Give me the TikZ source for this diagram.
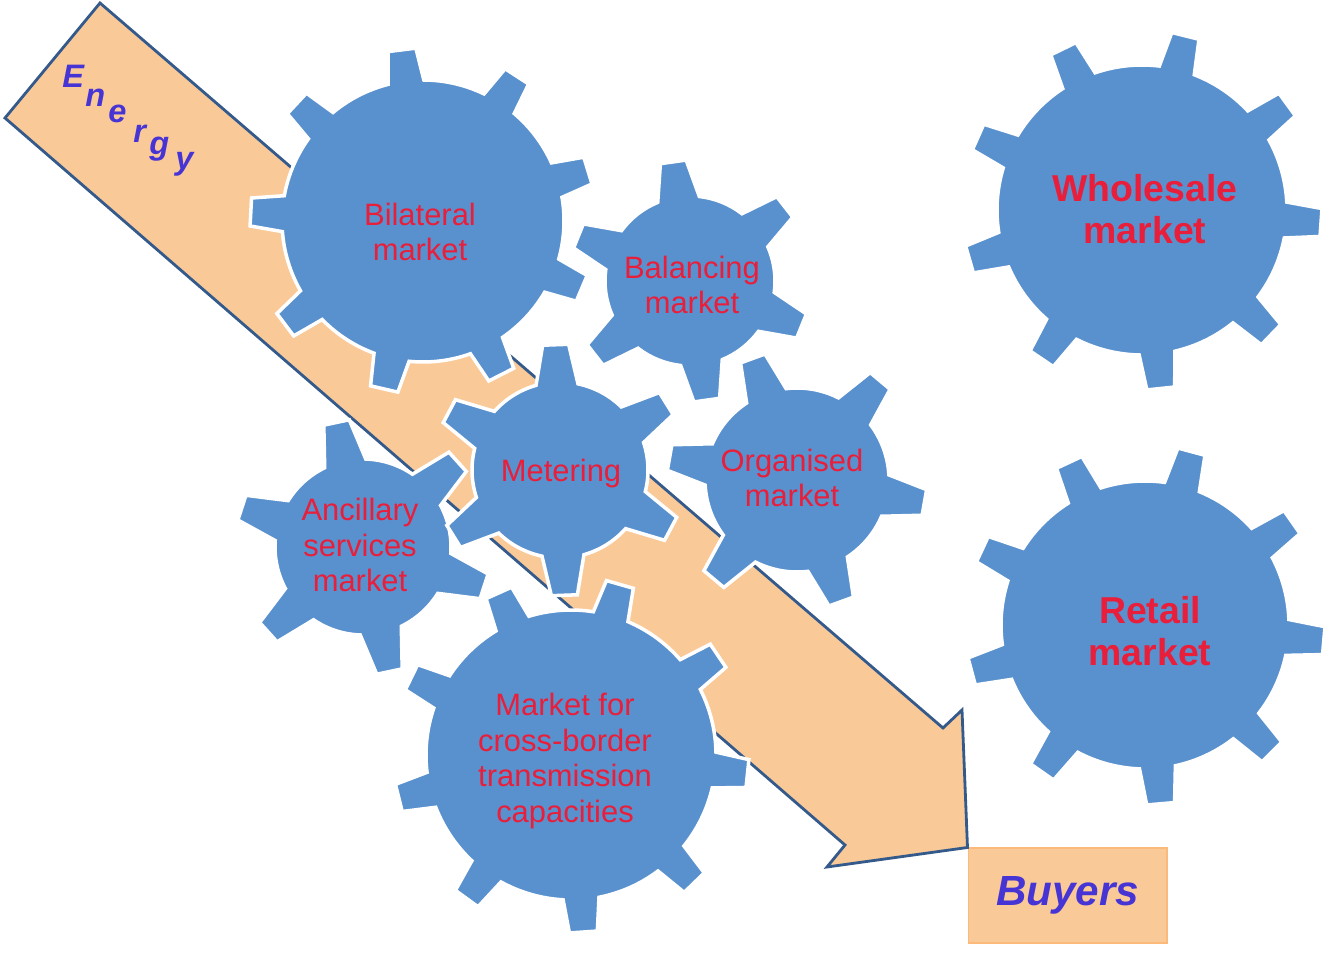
\documentclass[tikz,border=0pt]{standalone}
\usepackage{fontspec}
\setmainfont{Liberation Sans}
\usepackage{tikz}

\definecolor{gearblue}{RGB}{89,145,206}
\definecolor{peach}{RGB}{250,201,152}
\definecolor{arrowblue}{RGB}{52,90,140}
\definecolor{labelred}{RGB}{233,30,58}
\definecolor{inkblue}{RGB}{70,52,212}

\tikzset{
  gear/.style={fill=gearblue, draw=white, line width=2pt, line join=miter},
  gearlabel/.style={text=labelred, align=center, font=\fontsize{17.6}{20.4}\selectfont},
  biglabel/.style={text=labelred, align=center, font=\bfseries\fontsize{21.3}{23.8}\selectfont},
  energy/.style={text=inkblue, font=\bfseries\itshape\fontsize{18.5}{20}\selectfont, anchor=base west, inner sep=0pt},
}

% cog wheel: centre, rim radius, tip radius, teeth, first tooth angle, half width at rim, half width at tip
\newcommand{\cog}[7]{%
  \pgfmathsetmacro{\cogstep}{360/#4}%
  \pgfmathsetmacro{\cogroot}{asin(#6/#2)}%
  \pgfmathsetmacro{\cogtip}{asin(#7/#3)}%
  \path[gear, shift={#1}] ({#5-\cogroot}:#2)
    \foreach \k in {1,...,#4}{
      -- ({#5+(\k-1)*\cogstep-\cogtip}:#3)
      -- ({#5+(\k-1)*\cogstep+\cogtip}:#3)
      -- ({#5+(\k-1)*\cogstep+\cogroot}:#2)
      arc[start angle={#5+(\k-1)*\cogstep+\cogroot}, end angle={#5+\k*\cogstep-\cogroot}, radius=#2]
    } -- cycle;%
}

\begin{document}
\begin{tikzpicture}[x=0.02cm, y=-0.02cm]
	\useasboundingbox (0,0) rectangle (1326,953);

	% buyers box and the energy arrow pointing at it
	\node (buyers) [fill=peach, draw=peach!80!orange, line width=0.6pt, minimum width=3.98cm, minimum height=1.9cm, inner sep=0pt,
		text=inkblue, font=\bfseries\itshape\fontsize{24}{26}\selectfont] at (1067.5,895.5) {Buyers};
	\draw [fill=peach, draw=arrowblue, line width=1.6pt, line join=miter]
		(100,3) -- (943,728) -- (962,710) -- (buyers.north west) -- (827,867) -- (845,845) -- (5,118) -- cycle;
	\foreach \ch/\px/\py [count=\i] in {E/62/88, n/85/107, e/108/123, r/133/143, g/149/154, y/175/170}
		\node (en\i) [energy] at (\px,\py) {\ch};

	% small and large cogs
	\cog{(423,221)}{141}{173}{9}{-97}{18}{14}
	\cog{(690,281)}{85}{121}{6}{-98}{21}{13}
	\cog{(363,547)}{88}{128}{6}{-102}{21}{13}
	\cog{(560,470)}{88}{126}{6}{-92}{21}{13}
	\cog{(797,480)}{92}{130}{6}{-110}{21}{13}
	\cog{(571,755)}{145}{178}{9}{6}{18}{14}
	\cog{(1142,210)}{145}{180}{9}{-76}{18}{14}
	\cog{(1145,625)}{144}{180}{9}{5}{18}{14}

	\node (bil) [gearlabel] at (420,232) {Bilateral\\market};
	\node (bal) [gearlabel] at (692,285) {Balancing\\market};
	\node (anc) [gearlabel] at (360,545) {Ancillary\\services\\market};
	\node (met) [gearlabel] at (561,474) {Metering};
	\node (org) [gearlabel] at (792,478) {Organised\\market};
	\node (xb)  [gearlabel] at (565,761) {Market for\\cross-border\\transmission\\capacities};
	\node (whs) [biglabel] at (1145,209) {Wholesale\\market};
	\node (ret) [biglabel] at (1150,631) {Retail\\market};
\end{tikzpicture}
\end{document}
